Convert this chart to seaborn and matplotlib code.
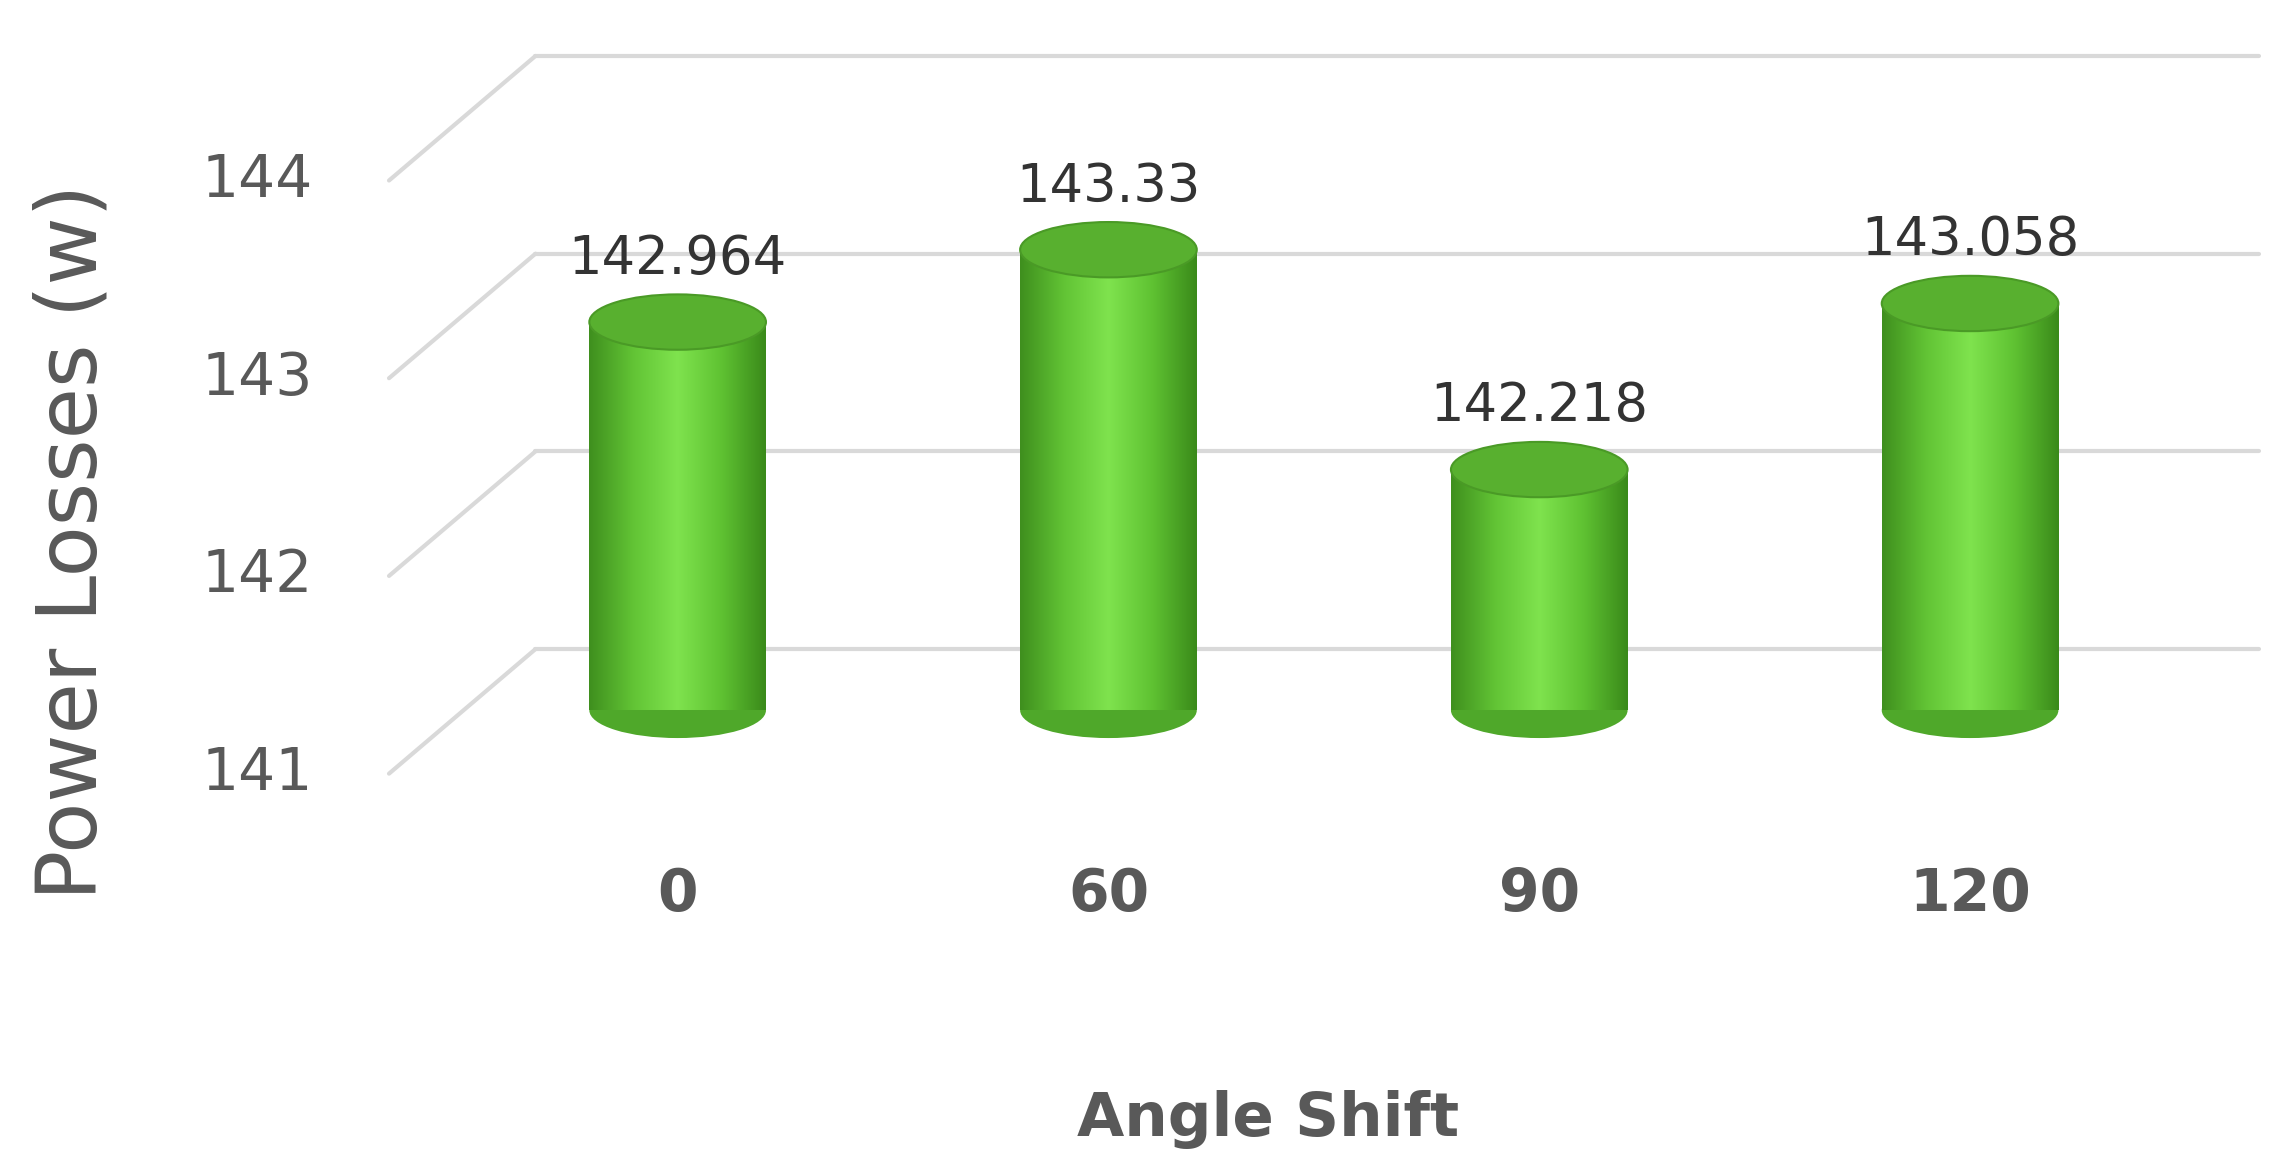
import numpy as np
import matplotlib
matplotlib.use("Agg")
import matplotlib.pyplot as plt
import seaborn as sns
from matplotlib.patches import Ellipse
from matplotlib.colors import LinearSegmentedColormap

categories = ["0", "60", "90", "120"]
values = [142.964, 143.33, 142.218, 143.058]
value_labels = ["142.964", "143.33", "142.218", "143.058"]
y_ticks = [141, 142, 143, 144]
base = 141

sns.set_theme(style="white")
plt.rcParams['font.family'] = ['DejaVu Sans']
fig = plt.figure(figsize=(22.88, 11.57), dpi=100)
ax = fig.add_axes([0, 0, 1, 1])
sns.barplot(x=categories, y=values, ax=ax, color="#6cd33c", width=0.41, saturation=1)
ax.set_xlim(-1.573, 3.738)
ax.set_ylim(138.741, 144.593)
ax.axis("off")

back_dy, front_dy = 0.31, 0.32
bx, fx, rx = -0.33, -0.67, 3.67
for v in y_ticks:
    ax.plot([bx, rx], [v + back_dy, v + back_dy], color="#d9d9d9", lw=3, zorder=0)
    ax.plot([fx, bx], [v - front_dy, v + back_dy], color="#d9d9d9", lw=3, zorder=0)
    ax.text(-0.977, v - front_dy, str(v), ha="center", va="center", fontsize=42, color="#595959")

cmap = LinearSegmentedColormap.from_list("g", ["#3f8f1e", "#62c435", "#7fe34e", "#5fc232", "#3a8a1a"])
grad = np.linspace(0, 1, 256).reshape(1, -1)
eh = 0.28
for p, v, lab in zip(ax.patches, values, value_labels):
    x0, w = p.get_x(), p.get_width()
    p.set_y(base); p.set_height(v - base)
    p.set_facecolor("none"); p.set_edgecolor("none")
    im = ax.imshow(grad, cmap=cmap, extent=[x0, x0 + w, base, v], aspect="auto", zorder=2)
    im.set_clip_path(p)
    cx = x0 + w / 2
    ax.add_patch(Ellipse((cx, base), w, eh, facecolor="#4fa82a", edgecolor="none", zorder=1.9))
    ax.add_patch(Ellipse((cx, v), w, eh, facecolor="#58b02f", edgecolor="#4a9a26", lw=1.5, zorder=3))
    ax.text(cx, v + 0.32, lab, ha="center", va="center", fontsize=38, color="#333333", zorder=4)

for i, c in enumerate(categories):
    ax.text(i, 140.07, c, ha="center", va="center", fontsize=42, fontweight="bold", color="#595959")
ax.text(1.37, 138.93, "Angle Shift", ha="center", va="center", fontsize=44, fontweight="bold", color="#595959")
ax.text(-1.403, 141.85, "Power Losses (w)", ha="center", va="center", rotation=90, fontsize=60, color="#595959")

fig.savefig("out.png", dpi=100)
